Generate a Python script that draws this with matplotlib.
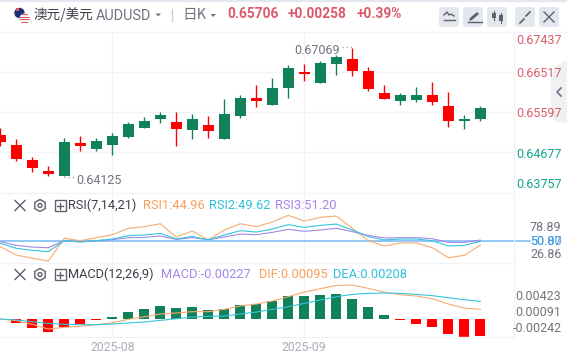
import matplotlib
matplotlib.use("Agg")
import matplotlib.pyplot as plt
from matplotlib.patches import Rectangle, FancyBboxPatch, Circle, RegularPolygon, Polygon

# ---------- data ----------
opens = [.65076,.64846,.64501,.64248,.64125,.64892,.64754,.64846,.65030,.65237,.65444,.65375,.65191,.65306,.64984,.65513,.65927,.65766,.66157,.66525,.66272,.66709,.66824,.66548,.66042,.65858,.65881,.65996,.65743,.65398,.65444]
closes = [.64915,.64524,.64317,.64179,.64915,.64823,.64938,.65053,.65329,.65398,.65536,.65214,.65444,.65168,.65559,.65927,.65858,.66157,.66617,.66479,.66732,.66870,.66548,.66134,.65904,.65996,.65996,.65835,.65398,.65444,.65706]
highs = [.65237,.64984,.64570,.64363,.65007,.65053,.65007,.65122,.65375,.65490,.65605,.65605,.65559,.65513,.65904,.65996,.66226,.66387,.66686,.66709,.66778,.66916,.67069,.66640,.66226,.66042,.66180,.66295,.66065,.65536,.65743]
lows = [.64823,.64478,.64225,.64133,.64125,.64708,.64708,.64616,.65007,.65237,.65352,.64823,.64984,.65007,.64984,.65467,.65720,.65766,.65927,.66318,.66272,.66456,.66433,.66088,.65896,.65766,.65835,.65766,.65260,.65214,.65398]
rsi1 = [42.9,32.4,28.2,24.8,53.4,50.4,54.2,58.0,66.0,68.1,71.8,55.0,62.6,51.3,63.9,71.8,68.1,73.9,82.4,75.2,79.8,81.5,66.0,50.4,43.7,47.5,47.5,41.6,29.0,31.9,44.96]
rsi2 = [47.1,40.8,38.2,36.6,50.4,48.7,50.4,52.5,56.7,57.6,59.7,52.5,55.9,51.3,57.6,63.0,61.3,65.1,70.6,67.2,69.7,71.4,63.9,55.5,51.3,52.5,52.5,50.4,43.7,44.5,49.62]
rsi3 = [49.2,44.5,42.4,41.6,50.4,49.2,50.4,51.7,54.2,54.6,56.3,52.1,54.2,51.7,55.0,58.8,58.0,60.9,64.7,62.2,63.9,66.0,61.8,57.1,53.8,54.2,54.2,52.9,48.3,48.3,51.2]
macd = [0,-.00053,-.00120,-.00174,-.00107,-.00067,-.00013,.00027,.00093,.00134,.00174,.00147,.00160,.00120,.00134,.00187,.00200,.00240,.00307,.00307,.00320,.00334,.00267,.00160,.00053,-.00013,-.00067,-.00107,-.00200,-.00240,-.00227]
dif = [0,-.00022,-.00071,-.00134,-.00111,-.00098,-.00076,-.00049,-.00004,.00031,.00067,.00080,.00098,.00098,.00129,.00174,.00200,.00240,.00298,.00360,.00405,.00449,.00454,.00409,.00360,.00325,.00307,.00271,.00200,.00147,.00129]
dea = [0,-.00013,-.00036,-.00058,-.00071,-.00076,-.00076,-.00067,-.00053,-.00040,-.00018,.00004,.00027,.00036,.00040,.00067,.00093,.00129,.00165,.00209,.00254,.00298,.00329,.00343,.00347,.00343,.00329,.00312,.00285,.00258,.00236]
price_grid = [.66517,.65597,.64677]
price_ticks = ["0.67437","0.66517","0.65597","0.64677","0.63757"]
date_idx = [7,19]
date_labels = ["2025-08","2025-09"]
rsi_mid = 50

# ---------- style ----------
W,H = 567,359
UP,DOWN = "#11815a","#ff0000"
GRID = "#f2f3f8"
ORANGE,CYAN,PURPLE,BLUE = "#f8ab6e","#36c3dc","#a488e8","#7fbdf5"
GREY,DARK = "#70747f","#3d404a"
SANS = ["Roboto","DejaVu Sans"]
CJK = ["Noto Sans CJK SC","DejaVu Sans"]
plt.rcParams["font.family"] = SANS

fig = plt.figure(figsize=(W/100,H/100),dpi=100,facecolor="white")
def panel(top,bottom,ylim):
    ax = fig.add_axes([0,1-bottom/H,513.7/W,(bottom-top)/H],facecolor="none")
    ax.set_xlim(-0.3/16,(513.7-0.3)/16)
    ax.set_ylim(*ylim)
    for s in ax.spines.values(): s.set_visible(False)
    ax.set_xticks(date_idx); ax.set_xticklabels([])
    ax.tick_params(length=0)
    ax.set_yticks([])
    ax.grid(axis="x",color=GRID,lw=1)
    ax.set_axisbelow(True)
    return ax

n = len(opens)
xs = list(range(n))
# main candle panel
ax = panel(32.3,193,(.63741,.67437))
ax.set_yticks(price_grid); ax.set_yticklabels([])
ax.grid(axis="y",color=GRID,lw=1)
for i,o,c,h,l in zip(xs,opens,closes,highs,lows):
    col = UP if c>=o else DOWN
    ax.vlines(i,l,h,color=col,lw=1,zorder=3)
    ax.bar(i,max(abs(c-o),.00004),bottom=min(o,c),width=11/16,color=col,lw=0,zorder=4)

# RSI panel
ar = panel(193,263,(22.3,110.5))
ar.plot(xs,rsi1,color=ORANGE,lw=.8,zorder=3)
ar.plot(xs,rsi3,color=PURPLE,lw=.8,zorder=3)
ar.plot(xs,rsi2,color=CYAN,lw=.8,zorder=3)
ar.plot([-0.1,33.1],[rsi_mid,rsi_mid],color=BLUE,lw=1.2,zorder=2,clip_on=False)

# MACD panel
am = panel(263,337,(-.0024,.00748))
am.bar(xs,macd,width=10/16,color=[UP if v>=0 else DOWN for v in macd],lw=0,zorder=2)
am.plot(xs,dif,color=ORANGE,lw=.8,zorder=3)
am.plot(xs,dea,color=CYAN,lw=.8,zorder=3)
am.set_xticklabels(date_labels,fontsize=8.8,color="#a9adb8")
am.tick_params(axis="x",pad=3)

# ---------- overlay in pixel coordinates ----------
o = fig.add_axes([0,0,1,1],facecolor="none",zorder=10)
o.set_xlim(0,W); o.set_ylim(H,0); o.axis("off")
o.plot([0,W],[0.5,0.5],color="#e4e7ef",lw=1.5)
o.plot([0,W],[31.5,31.5],color="#f3f4f8",lw=1)
o.plot([0,513.7],[193,193],color=GRID,lw=1)
o.plot([0,513.7],[263,263],color=GRID,lw=1)
o.plot([0,513.7],[337,337],color=GRID,lw=1)
o.plot([513.7,513.7],[32,337],color=GRID,lw=1)

def T(x,y,s,c=GREY,fs=9,ha="left",fam=SANS,w="normal"):
    o.text(x,y,s,color=c,fontsize=fs,ha=ha,va="center",family=fam,weight=w)

# flag
au = Circle((19.5,13),5.2,fc="#1f2f78",ec="none",zorder=2); o.add_patch(au)
us = Circle((24.7,18.6),5.2,fc="#f4f4f6",ec="none",zorder=3); o.add_patch(us)
for k in range(4):
    r = Rectangle((19,14+k*2.6),12,1.3,fc="#e2545f",ec="none",zorder=4); o.add_patch(r); r.set_clip_path(us)
o.add_patch(Rectangle((15.5,8),3,3,fc="#e2545f",ec="none",zorder=3))

# header
T(34,14.5,"澳元/美元",DARK,9.8,fam=CJK)
T(96,15.5,"AUDUSD",GREY,10.4)
o.add_patch(Polygon([(155.5,13.5),(161,13.5),(158.2,16.5)],fc=GREY,ec="none"))
o.plot([172,172],[9,21],color="#c9ccd5",lw=1)
T(182,14.5,"日K",GREY,10.5,fam=CJK)
o.add_patch(Polygon([(210.5,14),(216,14),(213.2,17)],fc=GREY,ec="none"))
T(227,14.5,"0.65706","#dc5b6b",9.9,w="bold")
T(288,14.5,"+0.00258","#dc5b6b",9.9,w="bold")
T(357,14.5,"+0.39%","#dc5b6b",9.9,w="bold")

# buttons
for bx in (439,463,487,515,539):
    o.add_patch(FancyBboxPatch((bx+2,9),16,16,boxstyle="round,pad=2,rounding_size=3",fc="#e5e7ee",ec="none"))
ic = "#5d616c"
o.plot([444,447,449,451,454],[15,12,15,14,16],color=ic,lw=1); o.plot([444,455],[20,20],color=ic,lw=1)
o.add_patch(Polygon([(469,21),(470,18),(477,12),(479,14),(472,20)],fc=ic,ec="none")); o.plot([468,482],[22,22],color=ic,lw=1)
for cx,t,b in ((494,12,19),(501,14,22)):
    o.plot([cx,cx],[t-1,b+1],color=ic,lw=.8); o.add_patch(Rectangle((cx-2,t+1),4,b-t-2,fc=ic,ec="none"))
for a,b,c,d in ((520,23,524,19),(530,12,526,16)):
    o.plot([a,c],[b,d],color=ic,lw=1.2)
for a,b,c,d in ((544,12,554,22),(554,12,544,22)):
    o.plot([a,c],[b,d],color=ic,lw=1)
# collapse handle
o.add_patch(Polygon([(567,60),(556,66),(551,74),(551,116),(556,122),(567,123)],fc="#f0f1f5",ec="none"))
o.plot([561,557,561],[88,92,96],color=GREY,lw=1.2)

# price labels
for y,s,c in zip((40,73.5,113.5,155,184),price_ticks,("#dc5b6b",)*3+("#12a58a",)*2):
    T(561.5,y,s,c,ha="right")
# extreme labels
T(294,50,"0.67069")
T(76,180,"0.64125")
o.plot([342,352],[46.5,46.5],color="#a9adb8",lw=1,ls=(0,(1,2)))
o.plot([64,75],[176.5,176.5],color="#a9adb8",lw=1,ls=(0,(1,2)))

# indicator legends
for y,name in ((205.5,"RSI(7,14,21)"),(274.5,"MACD(12,26,9)")):
    o.plot([15,25],[y-5,y+5],color=ic,lw=1); o.plot([25,15],[y-5,y+5],color=ic,lw=1)
    o.add_patch(RegularPolygon((40,y),6,radius=6,fc="none",ec=ic,lw=1))
    o.add_patch(Circle((40,y),2,fc="none",ec=ic,lw=1))
    o.add_patch(Rectangle((54.5,y-5.5),11,11,fc="none",ec=ic,lw=1))
    o.plot([57,63],[y,y],color=ic,lw=1); o.plot([60,60],[y-3,y+3],color=ic,lw=1)
    T(68,y,name,DARK,9.2)
T(143,205.5,"RSI1:44.96","#f8a05c",9.3)
T(209,205.5,"RSI2:49.62","#2ec0dc",9.3)
T(275,205.5,"RSI3:51.20","#a488e8",9.3)
T(161,274.5,"MACD:-0.00227","#a488e8",9.3)
T(259,274.5,"DIF:0.00095","#f8a05c",9.3)
T(333,274.5,"DEA:0.00208","#2ec0dc",9.3)
T(561.5,227.5,"78.89",ha="right")
T(561.5,255,"26.86",ha="right")
T(561.5,241.5,"50.00","#4a9ee8",ha="right")
T(561.5,241.5,"50.87","#4a9ee8",ha="right")
T(561.5,296.5,"0.00423",ha="right")
T(561.5,312.5,"0.00091",ha="right")
T(561.5,328.5,"-0.00242",ha="right")

fig.savefig("out.png",dpi=100)
